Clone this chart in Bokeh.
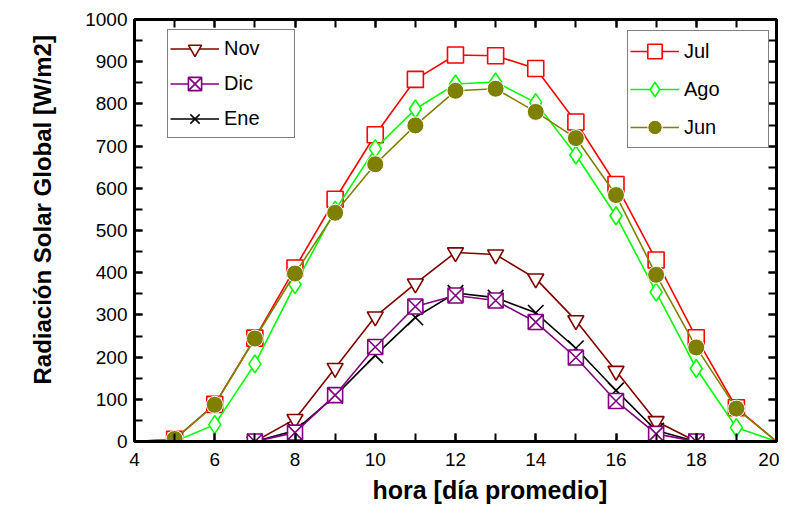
from bokeh.plotting import figure
from bokeh.models import Range1d, LinearAxis, SingleIntervalTicker, Legend, LegendItem, Title
from bokeh.embed import file_html
from bokeh.resources import INLINE

# ---- data ----
hours_full = list(range(4, 21))
jul = [0, 5, 88, 245, 411, 574, 727, 858, 916, 914, 884, 757, 609, 430, 246, 80, 0]
jun = [0, 6, 87, 244, 398, 542, 657, 749, 831, 836, 781, 719, 584, 395, 223, 78, 0]
hours_ago = list(range(5, 21))
ago = [0, 40, 184, 372, 548, 694, 788, 847, 852, 803, 679, 535, 354, 173, 33, 0]
hours_win = list(range(7, 19))
nov = [0, 53, 174, 296, 374, 448, 443, 386, 287, 167, 48, 0]
dic = [0, 21, 110, 224, 320, 346, 334, 283, 199, 96, 18, 0]
ene = [0, 26, 108, 204, 294, 352, 341, 305, 221, 121, 26, 0]

x_title = "hora  [día promedio]"
y_title = "Radiación Solar Global  [W/m2]"

FONT = "Liberation Sans"

p = figure(width=779, height=509, output_backend="svg", toolbar_location=None,
           x_range=Range1d(4, 20), y_range=Range1d(0, 1000),
           min_border_left=134, min_border_top=19, min_border_right=3, min_border_bottom=68)
p.grid.visible = False
p.outline_line_color = "black"
p.outline_line_width = 3
p.background_fill_color = "white"
p.border_fill_color = "white"

p.xaxis.ticker = SingleIntervalTicker(interval=2, num_minor_ticks=2)
p.yaxis.ticker = SingleIntervalTicker(interval=100, num_minor_ticks=2)

def style_axis(ax, show_labels=True):
    ax.axis_line_width = 3
    ax.axis_line_color = "black"
    ax.major_tick_in = 8
    ax.major_tick_out = 0
    ax.minor_tick_in = 8
    ax.minor_tick_out = 0
    ax.major_tick_line_width = 2
    ax.minor_tick_line_width = 2
    ax.major_label_text_font = FONT
    if show_labels:
        ax.major_label_text_font_size = "19px"
        ax.major_label_text_color = "black"
    else:
        ax.major_label_text_font_size = "1px"
        ax.major_label_text_color = None
        ax.major_label_standoff = 0

for ax in p.xaxis + p.yaxis:
    style_axis(ax)
p.xaxis.major_label_standoff = 11
p.yaxis.major_label_standoff = 7

ax_top = LinearAxis(ticker=SingleIntervalTicker(interval=2, num_minor_ticks=2))
ax_right = LinearAxis(ticker=SingleIntervalTicker(interval=100, num_minor_ticks=2))
style_axis(ax_top, False)
style_axis(ax_right, False)
p.add_layout(ax_top, "above")
p.add_layout(ax_right, "right")

# axis titles (as side titles so they can be shifted like in the reference)
p.add_layout(Title(text=x_title, align="left", offset=238, standoff=10,
                   text_font=FONT, text_font_size="25px", text_font_style="bold",
                   text_color="black"), "below")
p.add_layout(Title(text=y_title, align="left", offset=57, standoff=50, vertical_align="top",
                   text_font=FONT, text_font_size="24px", text_font_style="bold",
                   text_color="black"), "left")

LW = 1.6

def series(xs, ys, color, marker, size, fill="white", mline=None, mlw=1.6):
    lr = p.line(xs, ys, line_color=color, line_width=LW)
    sr = p.scatter(xs, ys, marker=marker, size=size, line_color=mline or color,
                   fill_color=fill, line_width=mlw)
    return lr, sr

nov_r = series(hours_win, nov, "#800000", "inverted_triangle", 16)
ene_r = series(hours_win, ene, "black", "x", 22)
dic_r = series(hours_win, dic, "#800080", "square_x", 15)

jul_l = p.line(hours_full, jul, line_color="#ff0000", line_width=LW)
jul_s = p.scatter(hours_full[1:-1], jul[1:-1], marker="square", size=16,
                  line_color="#ff0000", fill_color="white", line_width=1.6)
ago_l = p.line(hours_ago, ago, line_color="#00ff00", line_width=LW)
ago_s = p.scatter(hours_ago[:-1], ago[:-1], marker="diamond", size=18,
                  line_color="#00ff00", fill_color="white", line_width=1.6)
jun_l = p.line(hours_full, jun, line_color="#808000", line_width=LW)
jun_s = p.scatter(hours_full[1:-1], jun[1:-1], marker="circle", size=17,
                  line_color="white", fill_color="#808000", line_width=1)

def make_legend(items, loc, padding, label_width, spacing, gh):
    return Legend(items=items, location=loc, padding=padding, spacing=spacing,
                  glyph_width=49, glyph_height=gh, label_standoff=5, label_width=label_width,
                  label_text_font=FONT, label_text_font_size="20px", label_text_color="black",
                  border_line_color="black", border_line_width=1,
                  background_fill_color="white", background_fill_alpha=1.0,
                  margin=0)

left_leg = make_legend([
    LegendItem(label="Nov", renderers=list(nov_r)),
    LegendItem(label="Dic", renderers=list(dic_r)),
    LegendItem(label="Ene", renderers=list(ene_r)),
], (33, 303), 2, 68, 2, 33)

right_leg = make_legend([
    LegendItem(label="Jul", renderers=[jul_l, jul_s]),
    LegendItem(label="Ago", renderers=[ago_l, ago_s]),
    LegendItem(label="Jun", renderers=[jun_l, jun_s]),
], (493, 293), 2, 82, 2, 36)

p.add_layout(left_leg, "center")
p.add_layout(right_leg, "center")

open("out.html", "w").write(file_html(p, INLINE))
